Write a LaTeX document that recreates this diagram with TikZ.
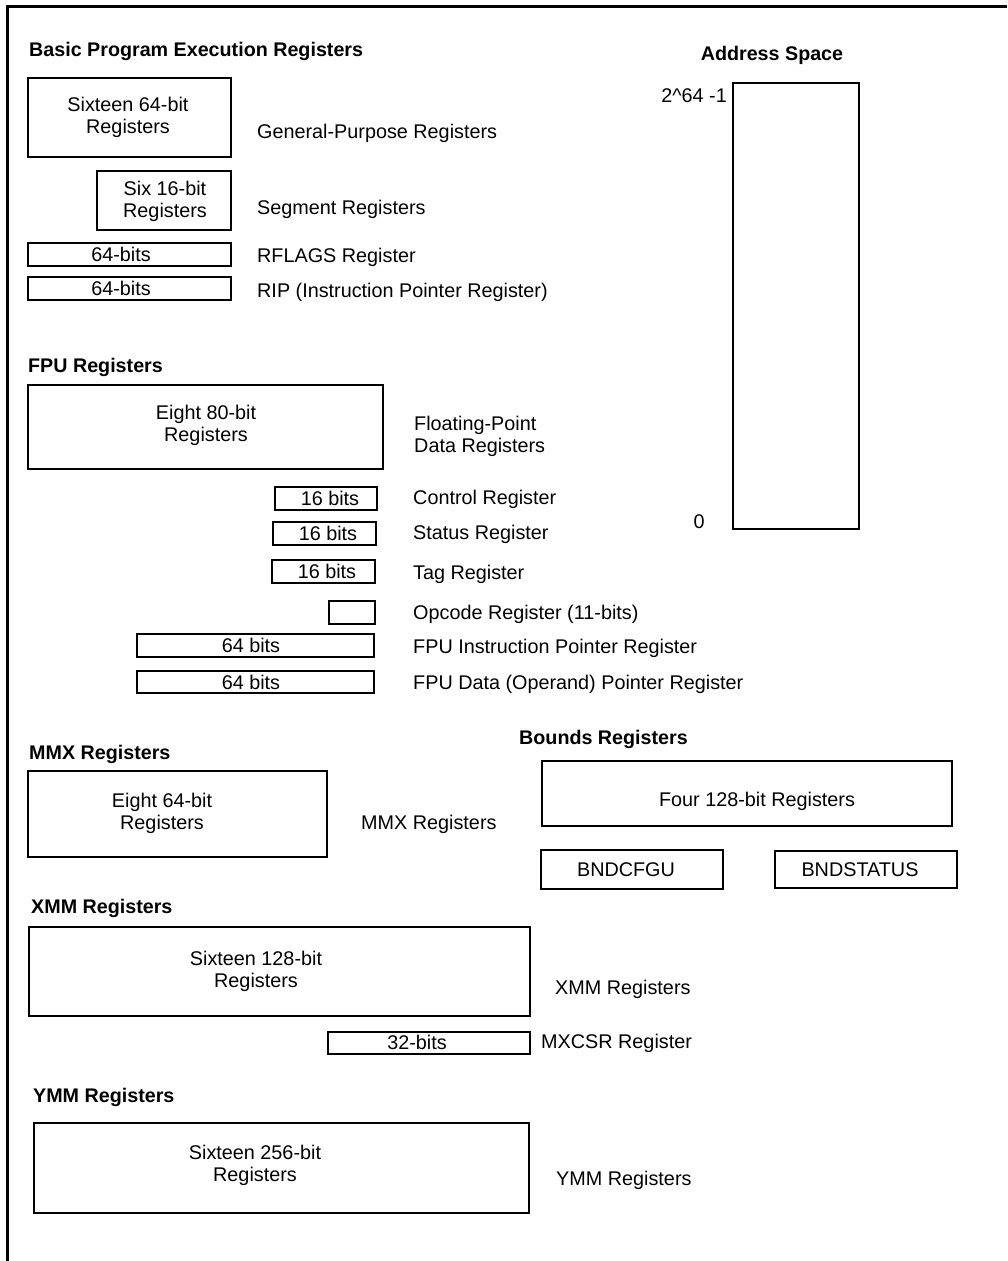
\documentclass[tikz,border=0pt]{standalone}
\usepackage{fontspec}
\setmainfont{Liberation Sans}
\begin{document}
\begin{tikzpicture}[x=1pt,y=-1pt,
  every node/.style={font=\fontsize{19.8}{22}\selectfont, inner sep=0pt},
  reg/.style={draw, line width=2pt},
  txt/.style={align=center, yshift=-2pt},
  txtone/.style={align=center},
  lbl/.style={anchor=west, align=left, yshift=-2pt},
  ttl/.style={anchor=west, yshift=-2pt, font=\fontsize{19.7}{22}\selectfont\bfseries}]
\useasboundingbox (0,0) rectangle (1007,1261);
\draw[line width=3pt] (7,1261) -- (7,6) -- (1007,6);

% Basic Program Execution Registers
\node[ttl] (tBasic) at (29,49) {Basic Program Execution Registers};
\node[reg, minimum width=203pt, minimum height=79pt] (gpr) at (129.5,117.5) {};
\node[txt] (gprT) at (128,115) {Sixteen 64-bit\\Registers};
\node[lbl] (gprL) at (257,131) {General-Purpose Registers};
\node[reg, minimum width=134pt, minimum height=59pt] (seg) at (164,200.5) {};
\node[txt] (segT) at (165,199) {Six 16-bit\\Registers};
\node[lbl] (segL) at (257,207) {Segment Registers};
\node[reg, minimum width=203pt, minimum height=23pt] (rfl) at (129.5,254.5) {};
\node[txtone] (rflT) at (121,254.5) {64-bits};
\node[lbl] (rflL) at (257,255) {RFLAGS Register};
\node[reg, minimum width=203pt, minimum height=23pt] (rip) at (129.5,288.5) {};
\node[txtone] (ripT) at (121,288.5) {64-bits};
\node[lbl] (ripL) at (257,290) {RIP (Instruction Pointer Register)};

% FPU Registers
\node[ttl] (tFPU) at (28,365) {FPU Registers};
\node[reg, minimum width=355pt, minimum height=84pt] (fpu) at (205.5,427) {};
\node[txt] (fpuT) at (206,423) {Eight 80-bit\\Registers};
\node[lbl] (fpuL) at (414,434) {Floating-Point\\Data Registers};
\node[reg, minimum width=102pt, minimum height=23pt] (ctl) at (326,498.5) {};
\node[txtone] (ctlT) at (330,498.5) {16 bits};
\node[lbl] (ctlL) at (413,497) {Control Register};
\node[reg, minimum width=103pt, minimum height=23pt] (sts) at (324.5,533.5) {};
\node[txtone] (stsT) at (328,533.5) {16 bits};
\node[lbl] (stsL) at (413,532) {Status Register};
\node[reg, minimum width=103pt, minimum height=23pt] (tag) at (323.5,571.5) {};
\node[txtone] (tagT) at (327,571.5) {16 bits};
\node[lbl] (tagL) at (413,572) {Tag Register};
\node[reg, minimum width=46pt, minimum height=23pt] (opc) at (352,612.5) {};
\node[lbl] (opcL) at (413,612) {Opcode Register (11-bits)};
\node[reg, minimum width=237pt, minimum height=23pt] (fip) at (255.5,645.5) {};
\node[txtone] (fipT) at (251,645.5) {64 bits};
\node[lbl] (fipL) at (413,646) {FPU Instruction Pointer Register};
\node[reg, minimum width=237pt, minimum height=22pt] (fdp) at (255.5,682) {};
\node[txtone] (fdpT) at (251,682) {64 bits};
\node[lbl] (fdpL) at (413,682) {FPU Data (Operand) Pointer Register};

% Address space
\node[yshift=-2pt, font=\fontsize{19.7}{22}\selectfont\bfseries] (tAddr) at (772,53) {Address Space};
\node[reg, minimum width=126pt, minimum height=446pt] (addr) at (796,306) {};
\node[anchor=east] (top) at (727,96) {2\textasciicircum 64 -1};
\node (zero) at (699,522) {0};

% MMX
\node[ttl] (tMMX) at (29,752) {MMX Registers};
\node[reg, minimum width=299pt, minimum height=86pt] (mmx) at (177.5,814) {};
\node[txt] (mmxT) at (162,811) {Eight 64-bit\\Registers};
\node[lbl] (mmxL) at (361,822) {MMX Registers};

% Bounds
\node[ttl] (tBnd) at (519,737) {Bounds Registers};
\node[reg, minimum width=410pt, minimum height=65pt] (bnd) at (747,793.5) {};
\node[txt] (bndT) at (757,799) {Four 128-bit Registers};
\node[reg, minimum width=182pt, minimum height=39pt] (cfg) at (632,869.5) {};
\node[txtone] (cfgT) at (626,869.5) {BNDCFGU};
\node[reg, minimum width=182pt, minimum height=37pt] (bst) at (866,869.5) {};
\node[txtone] (bstT) at (860,870) {BNDSTATUS};

% XMM
\node[ttl] (tXMM) at (31,906) {XMM Registers};
\node[reg, minimum width=501pt, minimum height=89pt] (xmm) at (279.5,971.5) {};
\node[txt] (xmmT) at (256,969) {Sixteen 128-bit\\Registers};
\node[lbl] (xmmL) at (555,987) {XMM Registers};
\node[reg, minimum width=202pt, minimum height=22pt] (mxc) at (429,1043) {};
\node[txtone] (mxcT) at (417,1042) {32-bits};
\node[lbl] (mxcL) at (541,1041) {MXCSR Register};

% YMM
\node[ttl] (tYMM) at (33,1095) {YMM Registers};
\node[reg, minimum width=495pt, minimum height=90pt] (ymm) at (281.5,1168) {};
\node[txt] (ymmT) at (255,1163) {Sixteen 256-bit\\Registers};
\node[lbl] (ymmL) at (556,1178) {YMM Registers};
\end{tikzpicture}
\end{document}
